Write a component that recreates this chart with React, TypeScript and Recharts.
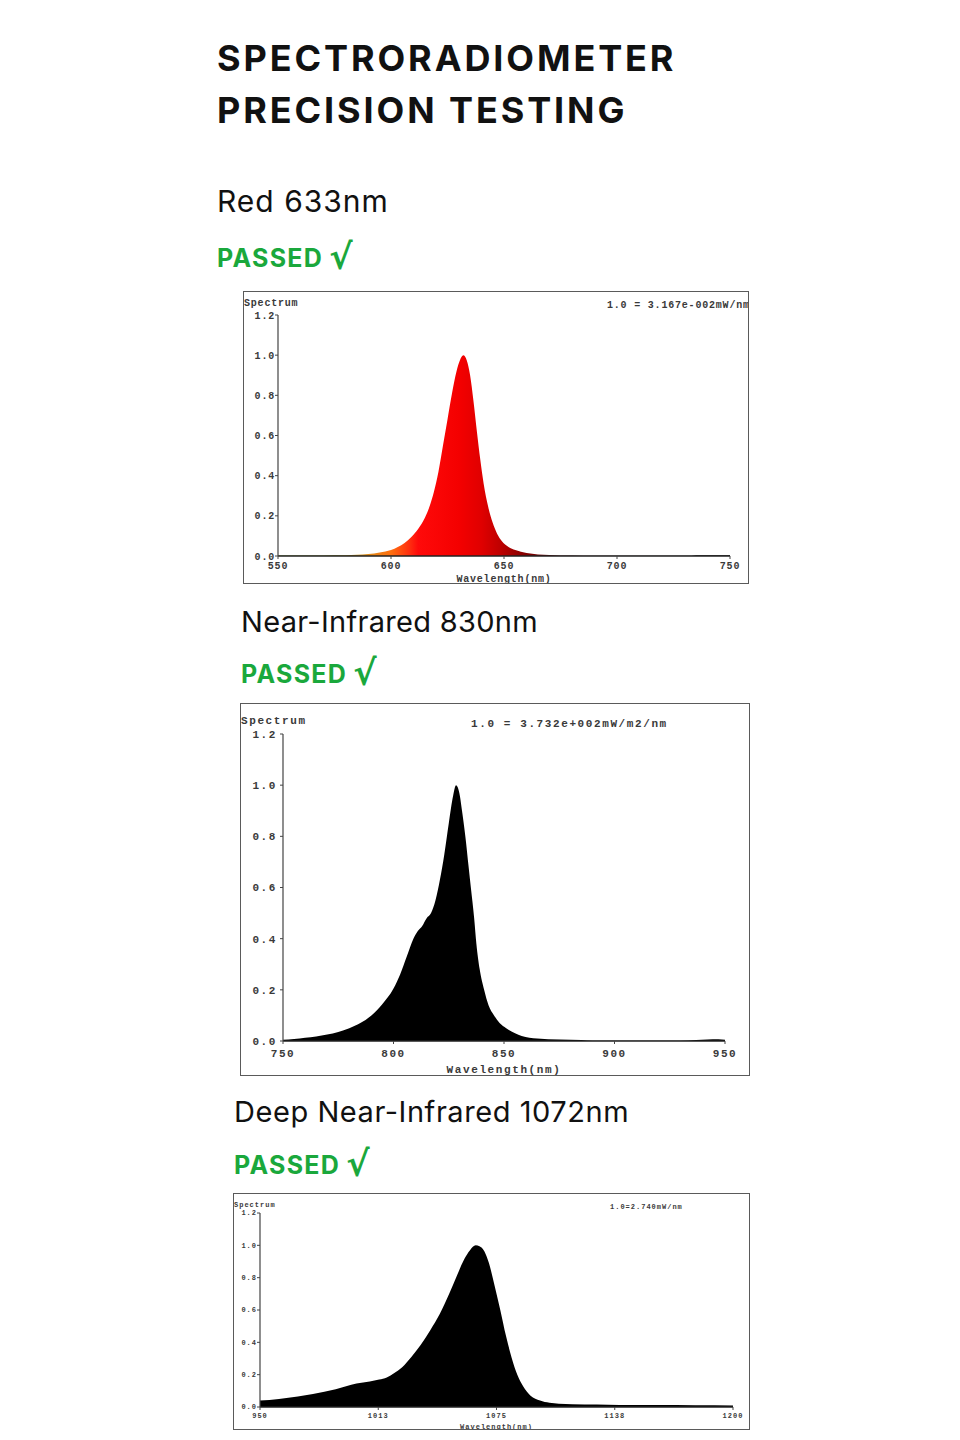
import React from "react";
import { AreaChart, Area, XAxis, YAxis } from "recharts";

// ---------- data ----------
const redWavelengths = [550, 560, 570, 580, 585, 590, 595, 600, 603, 606, 609, 612, 615, 617, 619, 621, 623, 625, 627, 629, 630.5, 632, 633.5, 635, 636.5, 638, 639.5, 641, 643, 645, 647, 649, 652, 655, 660, 665, 670, 680, 690, 700, 720, 733, 735, 745, 750];
const redIntensity = [0.002, 0.002, 0.003, 0.004, 0.006, 0.01, 0.018, 0.03, 0.045, 0.065, 0.095, 0.135, 0.19, 0.245, 0.32, 0.42, 0.55, 0.68, 0.81, 0.92, 0.975, 1.0, 0.975, 0.9, 0.77, 0.62, 0.48, 0.36, 0.245, 0.165, 0.11, 0.075, 0.045, 0.03, 0.015, 0.008, 0.005, 0.002, 0.001, 0.001, 0.001, 0.001, 0.004, 0.004, 0.004];
const redTicks = [550, 600, 650, 700, 750];

const nirWavelengths = [750, 755, 760, 765, 770, 775, 780, 785, 790, 795, 800, 803, 806, 809, 811, 813, 815, 817, 819, 821, 823, 825, 827, 828.3, 830, 831, 832.5, 834, 835, 836.5, 837.5, 839, 841, 843, 845.5, 848, 851, 855, 858, 865, 875, 885, 890, 900, 930, 937, 942, 947, 950];
const nirIntensity = [0.005, 0.008, 0.013, 0.018, 0.025, 0.035, 0.05, 0.07, 0.1, 0.145, 0.205, 0.26, 0.33, 0.4, 0.43, 0.45, 0.48, 0.5, 0.55, 0.63, 0.73, 0.85, 0.96, 1.0, 0.96, 0.9, 0.8, 0.68, 0.6, 0.48, 0.38, 0.28, 0.2, 0.14, 0.1, 0.07, 0.05, 0.03, 0.02, 0.01, 0.006, 0.004, 0.001, 0.001, 0.001, 0.004, 0.006, 0.007, 0.005];
const nirTicks = [750, 800, 850, 900, 950];

const deepWavelengths = [950, 960, 970, 978, 990, 1001, 1008, 1013, 1017, 1021, 1025, 1030, 1035, 1040, 1045, 1050, 1054, 1058, 1061, 1064, 1066, 1068.5, 1071, 1074, 1077, 1080, 1083, 1086, 1089, 1093, 1098, 1103, 1108, 1115, 1128, 1140, 1160, 1180, 1200];
const deepIntensity = [0.04, 0.05, 0.065, 0.08, 0.11, 0.145, 0.158, 0.17, 0.183, 0.21, 0.245, 0.31, 0.385, 0.475, 0.575, 0.7, 0.81, 0.915, 0.97, 1.0, 0.995, 0.965, 0.89, 0.75, 0.6, 0.44, 0.305, 0.2, 0.13, 0.07, 0.04, 0.026, 0.02, 0.017, 0.015, 0.013, 0.012, 0.011, 0.01];
const deepTicks = [950, 1012.5, 1075, 1137.5, 1200];
const deepTickLabels = ["950", "1013", "1075", "1138", "1200"];

const yTicks = [0, 0.2, 0.4, 0.6, 0.8, 1.0, 1.2];

const build = (xs: number[], ys: number[]) => xs.map((nm, i) => ({ nm, v: ys[i] }));

const redData = build(redWavelengths, redIntensity);
const nirData = build(nirWavelengths, nirIntensity);
const deepData = build(deepWavelengths, deepIntensity);

const MONO = "'Liberation Mono', 'DejaVu Sans Mono', monospace";
const SANS = "Inter, 'Noto Sans', 'Liberation Sans', sans-serif";
const GREEN = "#1aa83c";

type SpecProps = {
  left: number;
  top: number;
  width: number;
  height: number;
  data: { nm: number; v: number }[];
  domain: [number, number];
  ticks: number[];
  tickLabels?: string[];
  margin: { top: number; right: number };
  yWidth: number;
  xHeight: number;
  fs: number;
  ls: number;
  fill: string;
  gradient?: React.ReactNode;
  unitText: string;
  unitX: number;
  unitY: number;
  specY: number;
  labelOffset: number;
  tickMargin: number;
  yTickMargin: number;
};

function Spectrum(p: SpecProps) {
  const tickStyle = {
    fontSize: p.fs,
    fontFamily: MONO,
    fontWeight: 700,
    fill: "#3a3a3a",
    letterSpacing: p.ls,
  };
  const overlayText = {
    position: "absolute" as const,
    transform: "translateY(-50%)",
    fontFamily: MONO,
    fontWeight: 700,
    fontSize: p.fs,
    letterSpacing: p.ls,
    color: "#3a3a3a",
    whiteSpace: "nowrap" as const,
    lineHeight: 1,
  };
  return (
    <div
      style={{
        position: "absolute",
        left: p.left,
        top: p.top,
        width: p.width,
        height: p.height,
        overflow: "hidden",
        background: "#fff",
      }}
    >
      <AreaChart
        width={p.width}
        height={p.height}
        data={p.data}
        margin={{ top: p.margin.top, right: p.margin.right, left: 0, bottom: 0 }}
      >
        {p.gradient ? <defs>{p.gradient}</defs> : null}
        <XAxis
          dataKey="nm"
          type="number"
          domain={p.domain}
          ticks={p.ticks}
          interval={0}
          height={p.xHeight}
          tickSize={3}
          tickMargin={p.tickMargin}
          tickFormatter={(v: number) => {
            if (p.tickLabels) {
              const i = p.ticks.indexOf(v);
              return i >= 0 ? p.tickLabels[i] : String(v);
            }
            return String(v);
          }}
          tick={tickStyle}
          tickLine={{ stroke: "#444" }}
          axisLine={{ stroke: "#222", strokeWidth: 1.5 }}
          label={{
            value: "Wavelength(nm)",
            position: "insideBottom",
            offset: p.labelOffset,
            style: { ...tickStyle, textAnchor: "middle" },
          }}
        />
        <YAxis
          type="number"
          domain={[0, 1.2]}
          ticks={yTicks}
          interval={0}
          width={p.yWidth}
          tickSize={3}
          tickMargin={p.yTickMargin}
          tickFormatter={(v: number) => v.toFixed(1)}
          tick={tickStyle}
          tickLine={{ stroke: "#444" }}
          axisLine={{ stroke: "#444", strokeWidth: 1.2 }}
        />
        <Area
          type="monotone"
          dataKey="v"
          stroke="none"
          fill={p.fill}
          fillOpacity={1}
          isAnimationActive={false}
          dot={false}
          activeDot={false}
        />
      </AreaChart>
      <div style={{ ...overlayText, left: 1, top: p.specY }}>Spectrum</div>
      <div style={{ ...overlayText, left: p.unitX, top: p.unitY }}>{p.unitText}</div>
      <div
        style={{
          position: "absolute",
          inset: 0,
          border: "1.5px solid #5a5a5a",
          boxSizing: "border-box",
          pointerEvents: "none",
        }}
      />
    </div>
  );
}

function Heading({ text, left, top, size, weight, color, ls }: { text: string; left: number; top: number; size: number; weight: number; color: string; ls: number }) {
  return (
    <div
      style={{
        position: "absolute",
        left,
        top,
        fontFamily: SANS,
        fontSize: size,
        fontWeight: weight,
        color,
        lineHeight: 1,
        letterSpacing: ls,
        whiteSpace: "nowrap",
      }}
    >
      {text}
    </div>
  );
}

function Passed({ left, top }: { left: number; top: number }) {
  return (
    <div
      style={{
        position: "absolute",
        left,
        top,
        fontFamily: SANS,
        fontSize: 25,
        fontWeight: 700,
        color: GREEN,
        lineHeight: "25px",
        letterSpacing: 1.3,
        whiteSpace: "nowrap",
      }}
    >
      PASSED
      <span
        style={{
          fontFamily: "'DejaVu Sans', sans-serif",
          fontWeight: 700,
          fontSize: 35,
          letterSpacing: 0,
          marginLeft: 6,
          display: "inline-block",
          transform: "translateY(2px)",
        }}
      >
        √
      </span>
    </div>
  );
}

export default function App() {
  const redGradient = (
    <linearGradient id="redGrad" x1="0" y1="0" x2="1" y2="0">
      <stop offset="0" stopColor="#5f8a12" />
      <stop offset="0.13" stopColor="#8a8a10" />
      <stop offset="0.2" stopColor="#e08a18" />
      <stop offset="0.25" stopColor="#ff7010" />
      <stop offset="0.29" stopColor="#ff3010" />
      <stop offset="0.31" stopColor="#ff0a0a" />
      <stop offset="0.4" stopColor="#f40000" />
      <stop offset="0.45" stopColor="#e00000" />
      <stop offset="0.49" stopColor="#c00000" />
      <stop offset="0.55" stopColor="#800000" />
      <stop offset="0.65" stopColor="#400000" />
      <stop offset="0.9" stopColor="#000000" />
      <stop offset="1" stopColor="#000000" />
    </linearGradient>
  );

  return (
    <div style={{ position: "absolute", left: 0, top: 0, width: 960, height: 1440, background: "#fff" }}>
      <Heading text="SPECTRORADIOMETER" left={217} top={40} size={36} weight={700} color="#111" ls={2.9} />
      <Heading text="PRECISION TESTING" left={217} top={92} size={36} weight={700} color="#111" ls={2.9} />

      <Heading text="Red 633nm" left={217} top={186} size={30} weight={400} color="#111" ls={1} />
      <Passed left={217} top={243} />
      <Spectrum
        left={243}
        top={291}
        width={506}
        height={293}
        data={redData}
        domain={[550, 750]}
        ticks={redTicks}
        margin={{ top: 24, right: 19 }}
        yWidth={35}
        xHeight={28}
        fs={10}
        ls={0.8}
        fill="url(#redGrad)"
        gradient={redGradient}
        unitText="1.0 = 3.167e-002mW/nm"
        unitX={364}
        unitY={15}
        specY={13}
        labelOffset={2}
        tickMargin={3}
        yTickMargin={0}
      />

      <Heading text="Near-Infrared 830nm" left={241} top={607} size={29} weight={400} color="#111" ls={0.3} />
      <Passed left={241} top={659} />
      <Spectrum
        left={240}
        top={703}
        width={510}
        height={373}
        data={nirData}
        domain={[750, 950]}
        ticks={nirTicks}
        margin={{ top: 31, right: 25 }}
        yWidth={43}
        xHeight={35}
        fs={11}
        ls={1.6}
        fill="#000"
        unitText="1.0 = 3.732e+002mW/m2/nm"
        unitX={231}
        unitY={21}
        specY={18}
        labelOffset={3}
        tickMargin={5}
        yTickMargin={3}
      />

      <Heading text="Deep Near-Infrared 1072nm" left={234} top={1097} size={29} weight={400} color="#111" ls={0.55} />
      <Passed left={234} top={1150} />
      <Spectrum
        left={233}
        top={1193}
        width={517}
        height={237}
        data={deepData}
        domain={[950, 1200]}
        ticks={deepTicks}
        tickLabels={deepTickLabels}
        margin={{ top: 20, right: 17 }}
        yWidth={27}
        xHeight={23}
        fs={7}
        ls={1}
        fill="#000"
        unitText="1.0=2.740mW/nm"
        unitX={377}
        unitY={14}
        specY={12}
        labelOffset={1}
        tickMargin={3}
        yTickMargin={0}
      />
    </div>
  );
}
